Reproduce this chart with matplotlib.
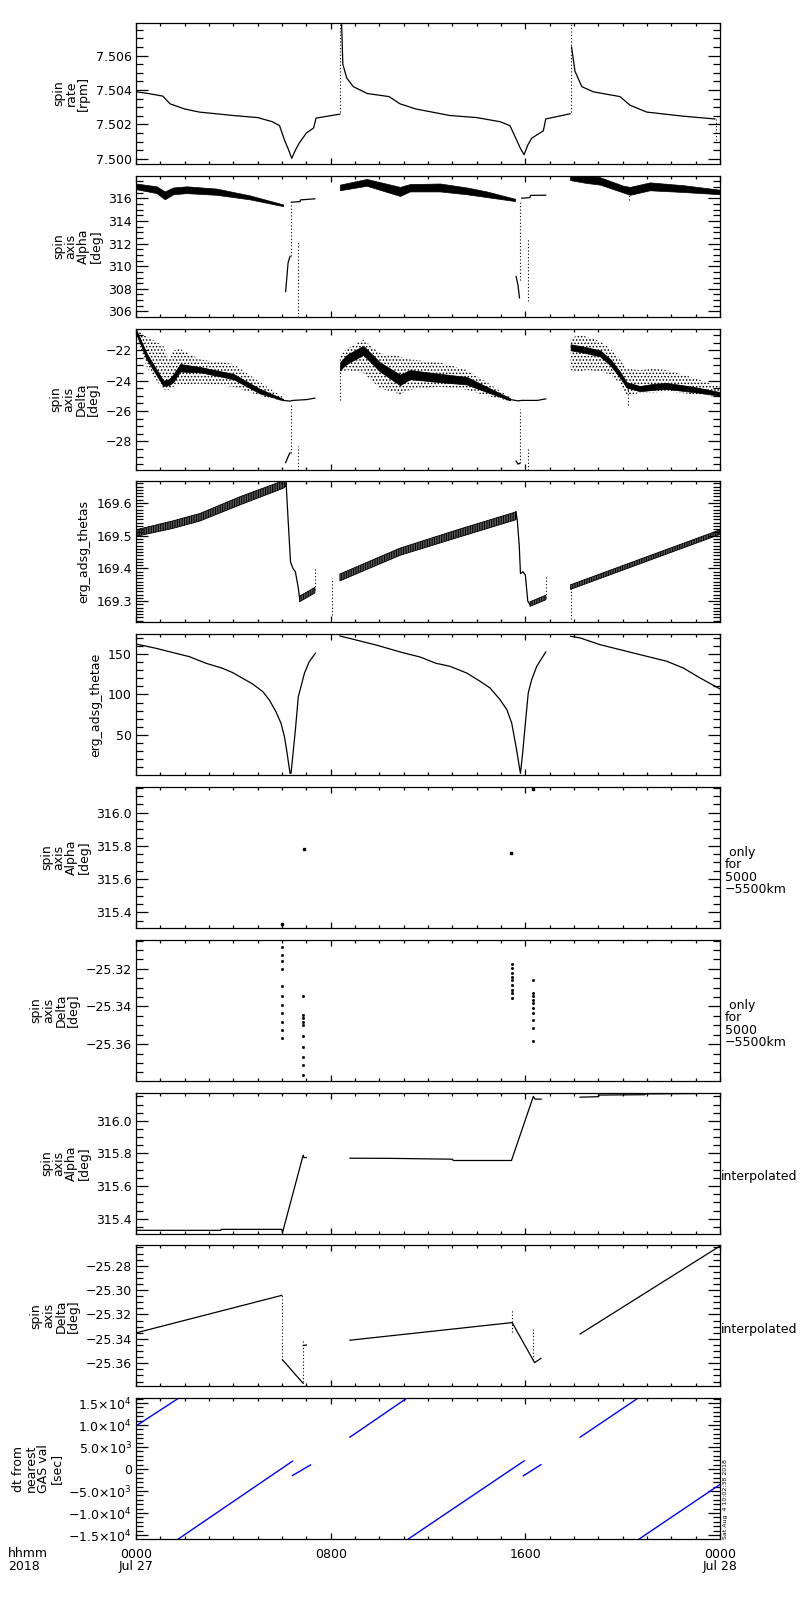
import matplotlib
matplotlib.use('Agg')
import matplotlib.pyplot as plt
from matplotlib.ticker import MultipleLocator, FixedLocator, FuncFormatter

plt.rcParams['font.family'] = ['DejaVu Sans']
plt.rcParams['font.size'] = 9
plt.rcParams['axes.linewidth'] = 0.9
plt.rcParams['hatch.linewidth'] = 0.7
plt.rcParams['axes.unicode_minus'] = True

# ---- time axis (hours since 2018-07-27 00:00) ----
xtick_hours = [0, 8, 16, 24]
xtick_labels = ['0000\nJul 27', '0800', '1600', '0000\nJul 28']

# ---- panel 1: spin rate [rpm] ----
rate_h1 = [0.0, 0.5, 1.1, 1.4, 2.0, 2.6, 4.0, 5.0, 5.6, 5.9, 6.1, 6.25, 6.4, 6.55, 6.7, 7.0, 7.3, 7.4, 8.38]
rate_v1 = [7.5039, 7.5038, 7.50365, 7.5032, 7.5029, 7.50272, 7.50252, 7.5024, 7.50216, 7.50193, 7.5011,
           7.5006, 7.50003, 7.5005, 7.5009, 7.5015, 7.5018, 7.50237, 7.5026]
rate_h2 = [8.45, 8.5, 8.66, 8.93, 9.5, 10.4, 10.85, 11.5, 12.9, 14.0, 14.96, 15.37, 15.64, 15.8, 15.95,
           16.1, 16.26, 16.74, 16.84, 17.84]
rate_v2 = [7.5078, 7.5055, 7.5047, 7.5042, 7.5038, 7.50362, 7.5032, 7.5029, 7.50252, 7.5024, 7.50216,
           7.50193, 7.5011, 7.5006, 7.50024, 7.5008, 7.5012, 7.50163, 7.50232, 7.50262]
rate_h3 = [17.9, 18.04, 18.32, 18.79, 19.89, 20.3, 20.99, 22.49, 23.79]
rate_v3 = [7.5065, 7.5051, 7.5042, 7.5039, 7.50362, 7.50312, 7.50272, 7.50248, 7.50232]
rate_spike_h = [8.4, 17.86, 23.85]
rate_spike_lo = [7.5027, 7.5027, 7.5011]
rate_spike_hi = [7.5080, 7.5080, 7.5023]

# ---- panel 2: spin axis Alpha [deg] (band = dense data) ----
alpha_b1_h = [0.0, 0.85, 1.18, 1.53, 2.08, 3.31, 4.68, 6.05]
alpha_b1_hi = [317.3, 317.05, 316.6, 316.95, 317.05, 316.85, 316.25, 315.45]
alpha_b1_lo = [316.8, 316.45, 315.9, 316.35, 316.45, 316.3, 315.9, 315.3]
alpha_b2_h = [8.38, 9.48, 10.85, 11.26, 12.49, 13.59, 14.41, 15.58]
alpha_b2_hi = [317.2, 317.7, 317.0, 317.25, 317.3, 316.95, 316.6, 315.95]
alpha_b2_lo = [316.7, 317.1, 316.2, 316.6, 316.6, 316.35, 316.1, 315.75]
alpha_b3_h = [17.84, 18.5, 19.07, 20.03, 20.3, 21.12, 22.49, 24.0]
alpha_b3_hi = [318.0, 318.0, 317.85, 317.1, 317.0, 317.4, 317.15, 316.75]
alpha_b3_lo = [317.6, 317.35, 317.2, 316.5, 316.3, 316.7, 316.55, 316.35]
alpha_left1_h = [6.15, 6.25, 6.33]
alpha_left1_v = [307.76, 310.3, 310.87]
alpha_shelf1_h = [6.38, 6.74, 6.76, 7.35]
alpha_shelf1_v = [315.65, 315.7, 315.85, 315.95]
alpha_left2_h = [15.62, 15.7, 15.76]
alpha_left2_v = [309.1, 308.3, 307.2]
alpha_shelf2_h = [15.85, 16.19, 16.21, 16.84]
alpha_shelf2_v = [316.0, 316.06, 316.25, 316.27]
alpha_dot_h = [6.36, 6.64, 15.8, 16.1, 20.25]
alpha_dot_lo = [310.87, 305.5, 308.8, 306.9, 315.85]
alpha_dot_hi = [315.6, 312.1, 315.8, 312.36, 316.5]

# ---- panel 3: spin axis Delta [deg] (core band + sparse cloud) ----
delta_b1_h = [0.0, 0.44, 1.12, 1.35, 1.53, 1.81, 2.63, 4.0, 5.1, 6.05]
delta_b1_hi = [-20.6, -22.2, -24.0, -23.9, -23.6, -22.9, -23.1, -23.55, -24.55, -25.2]
delta_b1_lo = [-20.9, -22.6, -24.35, -24.3, -24.1, -23.4, -23.45, -23.9, -24.85, -25.3]
delta_c1_hi = [-20.6, -21.1, -21.7, -22.6, -22.0, -21.9, -22.6, -22.9, -24.1, -25.1]
delta_c1_lo = [-21.0, -23.1, -24.6, -24.6, -24.4, -24.3, -24.2, -24.4, -25.0, -25.35]
delta_b2_h = [8.38, 8.66, 9.34, 10.03, 10.85, 11.26, 12.49, 13.59, 14.41, 15.37]
delta_b2_hi = [-22.8, -22.3, -21.7, -22.8, -23.6, -23.3, -23.55, -23.75, -24.4, -25.15]
delta_b2_lo = [-23.3, -22.9, -22.3, -23.4, -24.3, -23.9, -24.1, -24.25, -24.75, -25.3]
delta_c2_hi = [-22.4, -21.9, -21.3, -22.2, -22.4, -22.6, -22.8, -23.3, -24.1, -25.1]
delta_c2_lo = [-23.5, -23.3, -23.5, -24.5, -24.9, -24.6, -24.4, -24.6, -25.0, -25.35]
delta_b3_h = [17.86, 18.2, 18.52, 19.07, 19.5, 19.89, 20.16, 20.71, 21.3, 21.81, 22.9, 24.0]
delta_b3_hi = [-21.6, -21.7, -21.8, -22.0, -22.6, -23.4, -24.1, -24.35, -24.2, -24.15, -24.4, -24.75]
delta_b3_lo = [-22.0, -22.1, -22.2, -22.4, -23.0, -23.8, -24.45, -24.7, -24.6, -24.55, -24.75, -25.0]
delta_c3_hi = [-21.2, -21.0, -21.1, -21.4, -21.9, -22.6, -23.2, -23.3, -23.2, -23.3, -23.8, -24.4]
delta_c3_lo = [-23.3, -23.4, -23.3, -23.4, -23.6, -24.2, -25.0, -24.8, -24.8, -24.7, -24.9, -25.1]
delta_shelf1_h = [6.05, 6.33, 6.45, 7.0, 7.35]
delta_shelf1_v = [-25.3, -25.35, -25.3, -25.25, -25.15]
delta_left1_h = [6.15, 6.28, 6.33]
delta_left1_v = [-29.4, -28.9, -28.75]
delta_shelf2_h = [15.37, 15.7, 15.85, 16.5, 16.84]
delta_shelf2_v = [-25.24, -25.33, -25.3, -25.3, -25.2]
delta_left2_h = [15.62, 15.7, 15.76]
delta_left2_v = [-29.3, -29.5, -29.45]
delta_dot_h = [6.38, 6.65, 15.8, 16.09, 8.38, 20.2]
delta_dot_lo = [-28.75, -29.86, -29.45, -29.86, -25.3, -25.6]
delta_dot_hi = [-25.6, -28.3, -25.9, -28.4, -23.0, -24.2]

# ---- panel 4: erg_adsg_thetas ----
thetas_b1_h = [0.0, 1.5, 2.63, 4.3, 6.05, 6.17]
thetas_b1_hi = [169.518, 169.545, 169.568, 169.62, 169.668, 169.668]
thetas_b1_lo = [169.498, 169.522, 169.545, 169.595, 169.645, 169.652]
thetas_drop1_h = [6.17, 6.25, 6.35, 6.45, 6.55, 6.67, 6.72]
thetas_drop1_v = [169.66, 169.55, 169.42, 169.40, 169.39, 169.34, 169.31]
thetas_b1b_h = [6.72, 7.35]
thetas_b1b_hi = [169.315, 169.342]
thetas_b1b_lo = [169.298, 169.325]
thetas_b2_h = [8.38, 10.85, 13.2, 15.58, 15.62]
thetas_b2_hi = [169.383, 169.462, 169.518, 169.572, 169.575]
thetas_b2_lo = [169.362, 169.44, 169.494, 169.548, 169.55]
thetas_drop2_h = [15.62, 15.67, 15.75, 15.8, 15.9, 16.0, 16.1, 16.19]
thetas_drop2_v = [169.57, 169.547, 169.47, 169.384, 169.39, 169.38, 169.3, 169.29]
thetas_b2b_h = [16.19, 16.84]
thetas_b2b_hi = [169.298, 169.318]
thetas_b2b_lo = [169.284, 169.304]
thetas_b3_h = [17.86, 21.0, 24.0]
thetas_b3_hi = [169.35, 169.436, 169.518]
thetas_b3_lo = [169.336, 169.422, 169.504]
thetas_dot_h = [7.35, 8.04, 16.84, 17.86]
thetas_dot_lo = [169.333, 169.257, 169.31, 169.246]
thetas_dot_hi = [169.40, 169.37, 169.38, 169.343]

# ---- panel 5: erg_adsg_thetae ----
thetae_h1 = [0.0, 0.82, 1.64, 2.19, 2.88, 3.56, 3.97, 4.38, 4.79, 5.21, 5.48, 5.75, 5.96, 6.10, 6.19,
             6.27, 6.33, 6.37, 6.44, 6.55, 6.67, 6.78, 6.92, 7.12, 7.37]
thetae_v1 = [162.3, 157.0, 150.8, 146.7, 138.5, 132.3, 127.0, 120.0, 113.0, 103.5, 93.2, 78.8, 64.4, 47.9,
             31.5, 15.0, 2.7, 2.7, 23.3, 56.2, 97.3, 109.7, 126.1, 140.5, 150.8]
thetae_h2 = [8.38, 9.04, 9.86, 10.96, 11.67, 12.33, 12.9, 13.59, 14.14, 14.55, 14.96, 15.24, 15.44, 15.64,
             15.75, 15.8, 15.89, 15.99, 16.12, 16.26, 16.47, 16.84]
thetae_v2 = [172.2, 167.3, 161.1, 151.6, 146.3, 138.5, 134.8, 126.5, 116.3, 108.0, 93.6, 81.3, 64.8, 31.9,
             11.3, 2.7, 27.8, 60.7, 101.9, 118.3, 134.8, 152.5]
thetae_h3 = [17.86, 18.25, 19.07, 20.44, 21.81, 22.49, 23.18, 24.0]
thetae_v3 = [171.8, 169.8, 161.5, 151.2, 141.0, 132.7, 120.4, 106.8]

# ---- panel 6: Alpha only for 5000-5500 km ----
alpha_only_h = [5.99, 6.89, 15.43, 16.33]
alpha_only_v = [315.33, 315.78, 315.755, 316.14]

# ---- panel 7: Delta only for 5000-5500 km ----
delta_only_h = ([5.99] * 11 + [6.87] * 10 + [15.46] * 9 + [16.33] * 10)
delta_only_v = [-25.3082, -25.3126, -25.3161, -25.3202, -25.3294, -25.3347, -25.3391, -25.3435, -25.348,
                -25.3524, -25.3568,
                -25.3347, -25.3444, -25.3462, -25.348, -25.3497, -25.3559, -25.3613, -25.3666, -25.371,
                -25.3763,
                -25.3173, -25.3196, -25.3223, -25.3241, -25.3262, -25.3285, -25.3312, -25.3329, -25.3356,
                -25.3258, -25.3329, -25.3347, -25.3365, -25.3382, -25.3409, -25.3435, -25.3471, -25.3515,
                -25.3586]

# ---- panel 8: Alpha interpolated ----
ialpha_h1 = [0.0, 3.49, 3.5, 5.99, 6.02, 6.87, 6.9, 7.0]
ialpha_v1 = [315.329, 315.329, 315.335, 315.335, 315.315, 315.79, 315.775, 315.775]
ialpha_h2 = [8.79, 10.44, 13.0, 13.04, 15.43, 16.33, 16.4, 16.65]
ialpha_v2 = [315.771, 315.77, 315.765, 315.757, 315.757, 316.15, 316.133, 316.133]
ialpha_h3 = [18.25, 19.0, 19.05, 20.9, 20.95, 23.04]
ialpha_v3 = [316.145, 316.148, 316.158, 316.16, 316.165, 316.167]

# ---- panel 9: Delta interpolated ----
idelta_h1 = [0.0, 5.99]
idelta_v1 = [-25.3351, -25.3043]
idelta_h1b = [6.02, 6.87]
idelta_v1b = [-25.3572, -25.3765]
idelta_h1c = [6.87, 7.0]
idelta_v1c = [-25.3455, -25.345]
idelta_h2 = [8.79, 15.43]
idelta_v2 = [-25.3411, -25.3267]
idelta_h2b = [15.46, 16.38, 16.64]
idelta_v2b = [-25.3267, -25.3595, -25.356]
idelta_h3 = [18.25, 24.0]
idelta_v3 = [-25.336, -25.2638]
idelta_dot_h = [6.0, 6.87, 15.44, 16.33]
idelta_dot_lo = [-25.3572, -25.375, -25.334, -25.357]
idelta_dot_hi = [-25.3043, -25.34, -25.316, -25.3315]

# ---- panel 10: dt from nearest GAS val [sec] ----
dt_seg_h0 = [0.0, 1.74, 6.43, 8.79, 11.19, 15.92, 18.25, 20.68]
dt_seg_h1 = [1.72, 6.43, 7.17, 11.1, 15.95, 16.64, 20.6, 24.0]
dt_seg_v0 = [9800, -15900, -1470, 7236, -15900, -1534, 7236, -15900]
dt_seg_v1 = [16000, 1790, 916, 16000, 1855, 985, 16000, -3504]

# y-axis settings per panel
ylabels = ['spin\nrate\n[rpm]', 'spin\naxis\nAlpha\n[deg]', 'spin\naxis\nDelta\n[deg]',
           'erg_adsg_thetas', 'erg_adsg_thetae', 'spin\naxis\nAlpha\n[deg]', 'spin\naxis\nDelta\n[deg]',
           'spin\naxis\nAlpha\n[deg]', 'spin\naxis\nDelta\n[deg]', 'dt from\nnearest\nGAS val\n[sec]']
ylims = [(7.4997, 7.5079), (305.53, 317.98), (-29.86, -20.57), (169.235, 169.666), (0.37, 174.4),
         (315.305, 316.155), (-25.3795, -25.3046), (315.309, 316.173), (-25.379, -25.2633),
         (-15950, 16100)]
ymajor = [0.002, 2, 2, 0.1, 50, 0.2, 0.02, 0.2, 0.02, 5000]
yminor = [0.0005, 0.5, 0.5, 0.01, 10, 0.05, 0.005, 0.05, 0.005, 1000]
yfmt = ['%.3f', '%d', '%d', '%.1f', '%d', '%.1f', '%.2f', '%.1f', '%.2f', None]
only_note = ' only\nfor\n5000\n\u22125500km'
right_notes = [None, None, None, None, None, only_note, only_note, 'interpolated', 'interpolated', None]


def sci_fmt(v, pos):
    if abs(v) < 1e-9:
        return '0'
    sign = '\u2212' if v < 0 else ''
    a = abs(v)
    e = 0
    while a >= 10:
        a /= 10.0
        e += 1
    return '%s%.1f\u00d710$^{%d}$' % (sign, a, e)


def make_fmt(f):
    def fmt(v, pos):
        s = f % round(v, 6)
        return s.replace('-', '\u2212')
    return fmt


def dotted(ax, hs, lo, hi, color='k'):
    for h, a, b in zip(hs, lo, hi):
        ax.plot([h, h], [a, b], color=color, lw=0.8, ls=(0, (1, 2)))


fig = plt.figure(figsize=(8, 16), dpi=100)
W, H = 800.0, 1600.0
left, width = 136 / W, 584 / W
axes = []
for i in range(10):
    top = 23 + 152.8 * i
    ax = fig.add_axes([left, 1 - (top + 141) / H, width, 141 / H])
    axes.append(ax)

k = 'black'
lw = 0.9

# panel 1
ax = axes[0]
ax.plot(rate_h1, rate_v1, color=k, lw=lw)
ax.plot(rate_h2, rate_v2, color=k, lw=lw)
ax.plot(rate_h3, rate_v3, color=k, lw=lw)
dotted(ax, rate_spike_h, rate_spike_lo, rate_spike_hi)

# panel 2
ax = axes[1]
for hh, hi, lo in [(alpha_b1_h, alpha_b1_hi, alpha_b1_lo), (alpha_b2_h, alpha_b2_hi, alpha_b2_lo),
                   (alpha_b3_h, alpha_b3_hi, alpha_b3_lo)]:
    ax.fill_between(hh, lo, hi, color=k, lw=0.5)
ax.plot(alpha_left1_h, alpha_left1_v, color=k, lw=lw)
ax.plot(alpha_shelf1_h, alpha_shelf1_v, color=k, lw=lw)
ax.plot(alpha_left2_h, alpha_left2_v, color=k, lw=lw)
ax.plot(alpha_shelf2_h, alpha_shelf2_v, color=k, lw=lw)
dotted(ax, alpha_dot_h, alpha_dot_lo, alpha_dot_hi)

# panel 3
ax = axes[2]
for hh, hi, lo, chi, clo in [(delta_b1_h, delta_b1_hi, delta_b1_lo, delta_c1_hi, delta_c1_lo),
                             (delta_b2_h, delta_b2_hi, delta_b2_lo, delta_c2_hi, delta_c2_lo),
                             (delta_b3_h, delta_b3_hi, delta_b3_lo, delta_c3_hi, delta_c3_lo)]:
    ax.fill_between(hh, clo, chi, facecolor='none', edgecolor=k, hatch='.....', lw=0)
    ax.fill_between(hh, lo, hi, color=k, lw=0.5)
ax.plot(delta_shelf1_h, delta_shelf1_v, color=k, lw=lw)
ax.plot(delta_left1_h, delta_left1_v, color=k, lw=lw)
ax.plot(delta_shelf2_h, delta_shelf2_v, color=k, lw=lw)
ax.plot(delta_left2_h, delta_left2_v, color=k, lw=lw)
dotted(ax, delta_dot_h, delta_dot_lo, delta_dot_hi)

# panel 4
ax = axes[3]
for hh, hi, lo in [(thetas_b1_h, thetas_b1_hi, thetas_b1_lo), (thetas_b1b_h, thetas_b1b_hi, thetas_b1b_lo),
                   (thetas_b2_h, thetas_b2_hi, thetas_b2_lo), (thetas_b2b_h, thetas_b2b_hi, thetas_b2b_lo),
                   (thetas_b3_h, thetas_b3_hi, thetas_b3_lo)]:
    ax.fill_between(hh, lo, hi, facecolor='0.35', edgecolor=k, hatch='|||||||', lw=0.6)
ax.plot(thetas_drop1_h, thetas_drop1_v, color=k, lw=lw)
ax.plot(thetas_drop2_h, thetas_drop2_v, color=k, lw=lw)
dotted(ax, thetas_dot_h, thetas_dot_lo, thetas_dot_hi)

# panel 5
ax = axes[4]
ax.plot(thetae_h1, thetae_v1, color=k, lw=lw)
ax.plot(thetae_h2, thetae_v2, color=k, lw=lw)
ax.plot(thetae_h3, thetae_v3, color=k, lw=lw)

# panel 6, 7
axes[5].plot(alpha_only_h, alpha_only_v, ls='none', marker='s', ms=1.8, color=k)
axes[6].plot(delta_only_h, delta_only_v, ls='none', marker='s', ms=1.0, color=k)

# panel 8
ax = axes[7]
ax.plot(ialpha_h1, ialpha_v1, color=k, lw=lw)
ax.plot(ialpha_h2, ialpha_v2, color=k, lw=lw)
ax.plot(ialpha_h3, ialpha_v3, color=k, lw=lw)

# panel 9
ax = axes[8]
for hh, vv in [(idelta_h1, idelta_v1), (idelta_h1b, idelta_v1b), (idelta_h1c, idelta_v1c),
               (idelta_h2, idelta_v2), (idelta_h2b, idelta_v2b), (idelta_h3, idelta_v3)]:
    ax.plot(hh, vv, color=k, lw=lw)
dotted(ax, idelta_dot_h, idelta_dot_lo, idelta_dot_hi)

# panel 10
ax = axes[9]
for h0, h1, v0, v1 in zip(dt_seg_h0, dt_seg_h1, dt_seg_v0, dt_seg_v1):
    ax.plot([h0, h1], [v0, v1], color='#0000ff', lw=1.0)

for i, ax in enumerate(axes):
    ax.set_xlim(0, 24)
    ax.set_ylim(*ylims[i])
    ax.xaxis.set_major_locator(FixedLocator(xtick_hours))
    ax.xaxis.set_minor_locator(MultipleLocator(1))
    ax.yaxis.set_major_locator(MultipleLocator(ymajor[i]))
    ax.yaxis.set_minor_locator(MultipleLocator(yminor[i]))
    if yfmt[i] is None:
        ax.yaxis.set_major_formatter(FuncFormatter(sci_fmt))
    else:
        ax.yaxis.set_major_formatter(FuncFormatter(make_fmt(yfmt[i])))
    ax.tick_params(which='both', direction='in', top=True, right=True, labelsize=9, width=0.9)
    ax.tick_params(axis='y', which='major', length=8.6, pad=3)
    ax.tick_params(axis='y', which='minor', length=5)
    ax.tick_params(axis='x', which='major', length=4.3)
    ax.tick_params(axis='x', which='minor', length=2.2)
    ax.set_ylabel(ylabels[i], fontsize=9, labelpad=4, linespacing=0.95)
    if i < 9:
        ax.set_xticklabels([])
    else:
        ax.set_xticklabels(xtick_labels)
        ax.tick_params(axis='x', pad=6)
        for lbl in ax.get_xticklabels():
            lbl.set_linespacing(0.95)
    if right_notes[i]:
        top = 23 + 152.8 * i
        xn = 721 if right_notes[i] == 'interpolated' else 725
        fig.text(xn / W, 1 - (top + 84) / H, right_notes[i], ha='left', va='center',
                 fontsize=9, linespacing=0.95)

fig.text(8 / W, 1 - 1547 / H, 'hhmm\n2018', ha='left', va='top', fontsize=9, linespacing=0.95)
fig.text(725 / W, 1 - 1539 / H, 'Sat Aug  4 10:02:38 2018', rotation=90, ha='center', va='bottom',
         fontsize=4.5)

fig.savefig('out.png', dpi=100, facecolor='white')
